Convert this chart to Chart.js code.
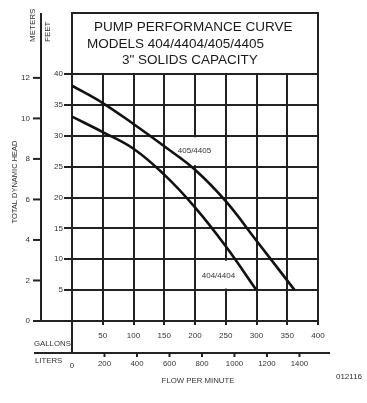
<!DOCTYPE html>
<html>
<head>
<meta charset="utf-8">
<script src="https://cdn.jsdelivr.net/npm/chart.js@4"></script>
<style>
  body { margin: 0; background: #fff; }
  canvas { display: block; }
</style>
</head>
<body>
<canvas id="pumpChart" width="367" height="403"></canvas>
<script>
// flow in gallons per minute, head in feet
const gallons405 = [0, 50, 100, 150, 200, 250, 300, 362];
const head405 = [38.1, 35.3, 31.9, 28.3, 24.5, 19.4, 13.0, 5];
const gallons404 = [0, 50, 100, 150, 200, 250, 300];
const head404 = [33.1, 30.6, 27.9, 23.7, 18.4, 12.1, 5];

const meterTicks = [0, 2, 4, 6, 8, 10, 12];
const literTicks = [0, 200, 400, 600, 800, 1000, 1200, 1400];
const titleLines = ["PUMP PERFORMANCE CURVE", "MODELS 404/4404/405/4405", "3\" SOLIDS CAPACITY"];
const curveLabels = ["405/4405", "404/4404"];
const curveLabelAt = [[172, 27.6], [211, 7.4]]; // [gallons, feet]

const FONT = "'Liberation Sans', Arial, sans-serif";
const INK = "#222";

function toPoints(xs, ys) {
  return xs.map((x, i) => ({ x: x, y: ys[i] }));
}

function line(ctx, x1, y1, x2, y2) {
  ctx.beginPath();
  ctx.moveTo(x1, y1);
  ctx.lineTo(x2, y2);
  ctx.stroke();
}

function vText(ctx, text, x, yEnd, size) {
  ctx.save();
  ctx.translate(x, yEnd);
  ctx.rotate(-Math.PI / 2);
  ctx.font = size + "px " + FONT;
  ctx.textAlign = "left";
  ctx.textBaseline = "middle";
  ctx.fillText(text, 0, 0);
  ctx.restore();
}

const extras = {
  id: "extras",
  beforeDatasetsDraw(chart) {
    // grid breaks behind the curve labels
    const { ctx, scales: { x, y } } = chart;
    ctx.save();
    ctx.fillStyle = "#fff";
    ctx.fillRect(x.getPixelForValue(200) - 2, y.getPixelForValue(30) + 1.5, 4, y.getPixelForValue(25) - y.getPixelForValue(30) - 3);
    ctx.fillRect(x.getPixelForValue(250) - 2, y.getPixelForValue(10) + 1.5, 4, y.getPixelForValue(5) - y.getPixelForValue(10) - 3);
    ctx.restore();
  },
  afterDraw(chart) {
    const { ctx, chartArea: a, scales: { x, y } } = chart;
    ctx.save();
    ctx.strokeStyle = INK;
    ctx.fillStyle = "#333";
    ctx.lineWidth = 2;

    // title box
    ctx.strokeRect(a.left, 13, a.right - a.left, a.top - 13);
    ctx.fillStyle = "#1a1a1a";
    ctx.textBaseline = "middle";
    ctx.textAlign = "left";
    ctx.font = "13.5px " + FONT;
    ctx.fillText(titleLines[0], 94, 27);
    ctx.fillText(titleLines[1], 87, 44);
    ctx.fillText(titleLines[2], 122, 60);

    // curve labels
    ctx.fillStyle = "#333";
    ctx.font = "8px " + FONT;
    curveLabels.forEach((t, i) => {
      ctx.fillText(t, x.getPixelForValue(curveLabelAt[i][0]), y.getPixelForValue(curveLabelAt[i][1]));
    });

    // meters axis
    const mx = 41;
    line(ctx, mx, 13, mx, a.bottom + 1);
    line(ctx, 33, a.bottom, a.left, a.bottom);
    ctx.font = "8px " + FONT;
    ctx.textAlign = "right";
    meterTicks.forEach((m) => {
      const py = y.getPixelForValue(m * 3.28084);
      line(ctx, 33, py, mx, py);
      ctx.fillText(String(m), 30, py);
    });
    vText(ctx, "METERS", 33, 42, 8);
    vText(ctx, "FEET", 48, 42, 8);
    ctx.save();
    ctx.translate(15, 182);
    ctx.rotate(-Math.PI / 2);
    ctx.textAlign = "center";
    ctx.font = "7.5px " + FONT;
    ctx.fillText("TOTAL DYNAMIC HEAD", 0, 0);
    ctx.restore();

    // liters axis
    const ly = 353;
    line(ctx, a.left, a.bottom, a.left, ly);
    line(ctx, 34, ly, 330, ly);
    ctx.textAlign = "left";
    ctx.font = "7.8px " + FONT;
    ctx.fillText("GALLONS", 34, 344);
    ctx.fillText("LITERS", 35, 361);
    ctx.textAlign = "center";
    literTicks.forEach((l) => {
      const px = x.getPixelForValue(l / 3.78541);
      if (l > 0) line(ctx, px, ly, px, ly + 4);
      ctx.fillText(String(l), px, l > 0 ? 364 : 366);
    });
    ctx.font = "7.8px " + FONT;
    ctx.fillText("FLOW PER MINUTE", 198, 381);
    ctx.font = "8px " + FONT;
    ctx.fillText("012116", 349, 377);
    ctx.restore();
  }
};

new Chart(document.getElementById("pumpChart"), {
  type: "line",
  data: {
    datasets: [
      {
        label: "405/4405",
        data: toPoints(gallons405, head405),
        borderColor: "#111",
        borderWidth: 2.6,
        pointRadius: 0,
        tension: 0.4,
        fill: false
      },
      {
        label: "404/4404",
        data: toPoints(gallons404, head404),
        borderColor: "#111",
        borderWidth: 2.6,
        pointRadius: 0,
        tension: 0.4,
        fill: false
      }
    ]
  },
  options: {
    responsive: false,
    animation: false,
    layout: { padding: { left: 52, right: 49, top: 74, bottom: 62 } },
    plugins: { legend: { display: false }, tooltip: { enabled: false } },
    scales: {
      x: {
        type: "linear",
        min: 0,
        max: 400,
        afterFit: (s) => { s.height = 20; },
        ticks: {
          stepSize: 50,
          padding: 6,
          color: "#333",
          font: { family: FONT, size: 8 },
          maxRotation: 0,
          callback: (v) => (v === 0 ? "" : v)
        },
        grid: { color: INK, lineWidth: 2, tickLength: 4 },
        border: { color: INK, width: 2 }
      },
      y: {
        min: 0,
        max: 40,
        afterFit: (s) => { s.width = 20; },
        ticks: {
          stepSize: 5,
          padding: 1,
          color: "#333",
          font: { family: FONT, size: 8 },
          callback: (v) => (v === 0 ? "" : v)
        },
        grid: { color: INK, lineWidth: 2, tickLength: 8 },
        border: { color: INK, width: 2 }
      }
    }
  },
  plugins: [extras]
});
</script>
</body>
</html>
